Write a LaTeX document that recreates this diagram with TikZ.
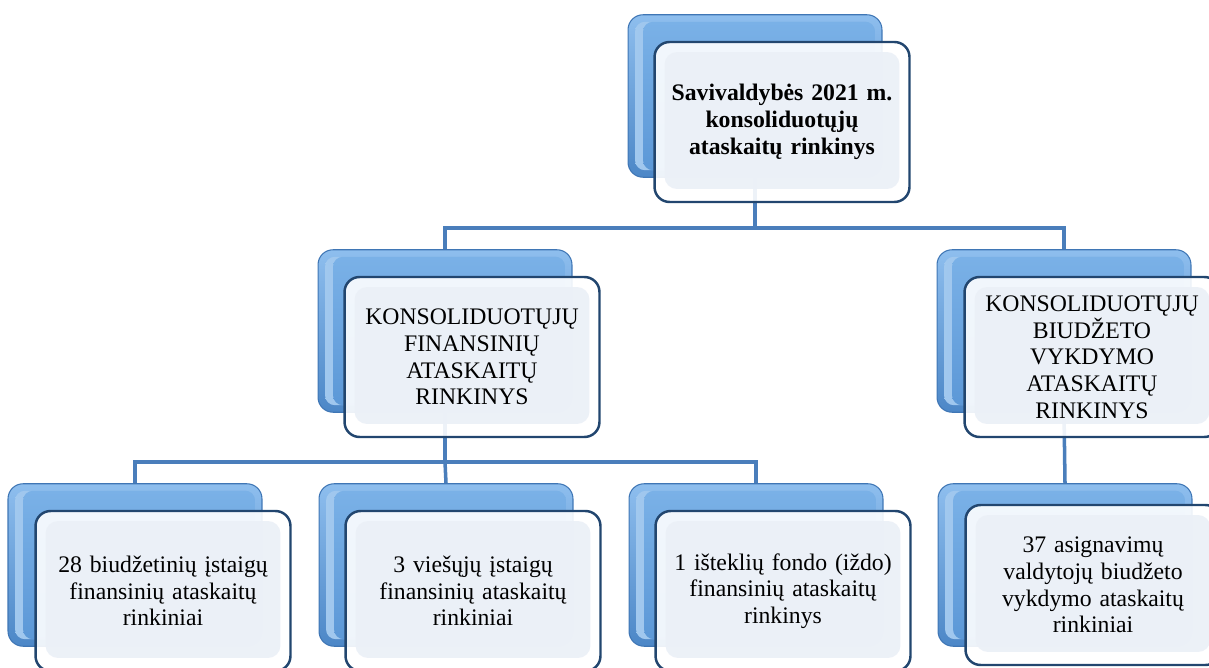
\documentclass[tikz,border=0pt]{standalone}
\usepackage{fontspec}
\setmainfont{Liberation Serif}
\definecolor{conncol}{HTML}{4A7EBB}
\definecolor{backtop}{HTML}{8EBEEE}
\definecolor{backbot}{HTML}{4C87C7}
\definecolor{backedge}{HTML}{3F76B5}
\definecolor{backinnertop}{HTML}{7AB1E7}
\definecolor{backinnerbot}{HTML}{5C98D7}
\definecolor{frontedge}{HTML}{22466F}
\definecolor{frontinner}{HTML}{EBF0F7}
\begin{document}
\begin{tikzpicture}[x=0.02cm,y=-0.02cm,
  conn/.style={draw=conncol,line width=2pt},
  backbox/.style={rectangle,rounded corners=0.3cm,minimum width=5.08cm,minimum height=3.25cm,
    draw=backedge,line width=0.6pt,top color=backtop,bottom color=backbot,
    path picture={\shade[left color=backinnertop!70!white,right color=backinnertop,rounded corners=0.2cm]
      ([xshift=0.14cm,yshift=0.14cm]path picture bounding box.south west) rectangle
      ([xshift=-0.14cm,yshift=-0.14cm]path picture bounding box.north east);
      \shade[top color=backinnertop,bottom color=backinnerbot,rounded corners=0.2cm]
      ([xshift=0.3cm,yshift=0.14cm]path picture bounding box.south west) rectangle
      ([xshift=-0.14cm,yshift=-0.14cm]path picture bounding box.north east);}},
  frontbox/.style={rectangle,rounded corners=0.3cm,minimum width=5.1cm,minimum height=3.2cm,
    draw=frontedge,line width=1.4pt,fill=white,fill opacity=0.9,text opacity=1,
    align=center,text width=4.8cm,font=\fontsize{13.5}{15.2}\selectfont,
    path picture={\fill[frontinner,opacity=0.9,rounded corners=0.25cm]
      ([xshift=0.2cm,yshift=0.26cm]path picture bounding box.south west) rectangle
      ([xshift=-0.2cm,yshift=-0.2cm]path picture bounding box.north east);}}
  ]
\useasboundingbox (0,0) rectangle (1209,668);
\clip (0,0) rectangle (1209,668);
% back boxes
\node[backbox] (topB) at (755,96) {};
\node[backbox] (mlB) at (445,331) {};
\node[backbox] (mrB) at (1064,331) {};
\node[backbox] (b1B) at (135,565) {};
\node[backbox] (b2B) at (446,565) {};
\node[backbox] (b3B) at (756,565) {};
\node[backbox] (b4B) at (1065,565) {};
% connectors
\coordinate (j1) at (755,228);
\coordinate (j2) at (445,462);
\draw[conn] (topB.south) -- (j1) -| (mlB.north);
\draw[conn] (j1) -| (mrB.north);
\draw[conn] (mlB.south) -- (j2) -| (b1B.north);
\draw[conn] (j2) -- (b2B.north);
\draw[conn] (j2) -| (b3B.north);
\draw[conn] (mrB.south) -- (b4B.north);
% front boxes
\node[frontbox,font=\fontsize{13.5}{15.2}\selectfont\bfseries] (topF) at (782,122) {Savivaldybės 2021 m.\\konsoliduotųjų\\ataskaitų rinkinys};
\node[frontbox] (mlF) at (472,357) {KONSOLIDUOTŲJŲ\\FINANSINIŲ\\ATASKAITŲ\\RINKINYS};
\node[frontbox] (mrF) at (1092,357) {KONSOLIDUOTŲJŲ\\BIUDŽETO\\VYKDYMO\\ATASKAITŲ\\RINKINYS};
\node[frontbox] (b1F) at (163,591) {28 biudžetinių įstaigų\\finansinių ataskaitų\\rinkiniai};
\node[frontbox] (b2F) at (473,591) {3 viešųjų įstaigų\\finansinių ataskaitų\\rinkiniai};
\node[frontbox] (b3F) at (783,591) {1 išteklių fondo (iždo)\\finansinių ataskaitų\\rinkinys};
\node[frontbox] (b4F) at (1093,585) {37 asignavimų\\valdytojų biudžeto\\vykdymo ataskaitų\\rinkiniai};
\end{tikzpicture}
\end{document}
